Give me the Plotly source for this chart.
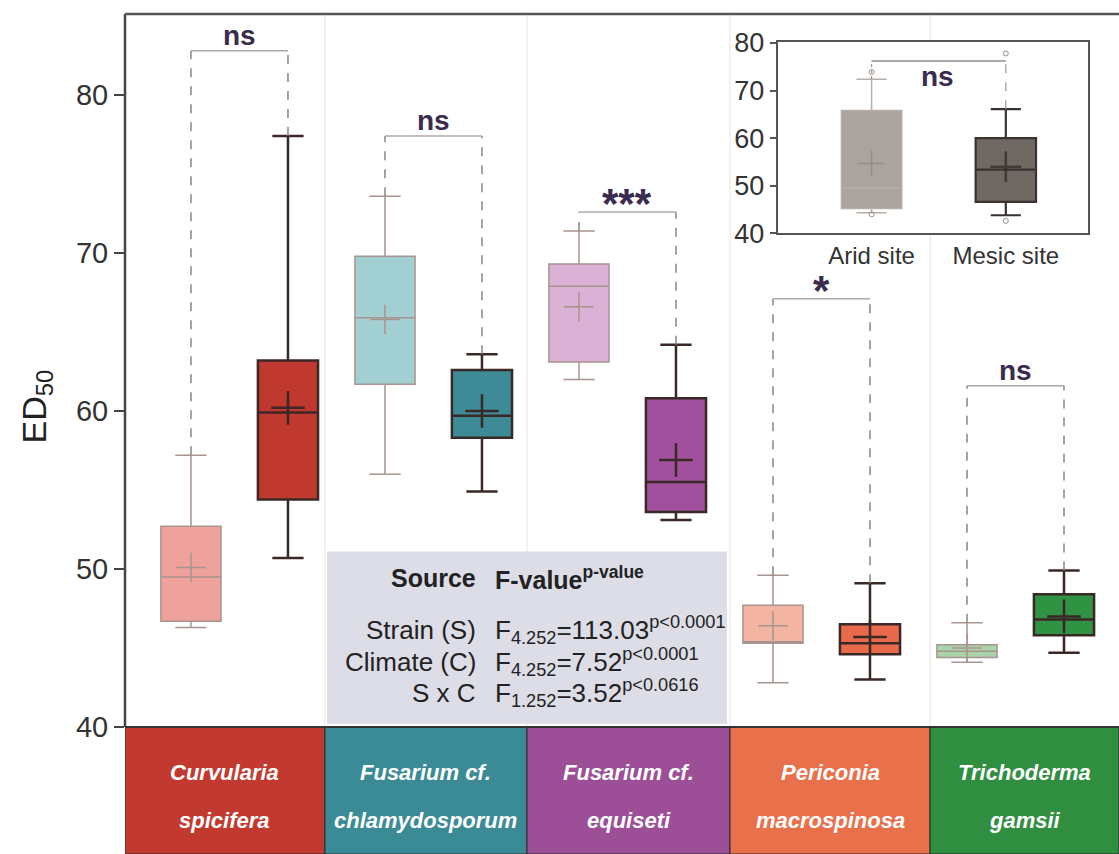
import plotly.graph_objects as go

# ---------------- data ----------------
strain_line1 = ["Curvularia", "Fusarium cf.", "Fusarium cf.", "Periconia", "Trichoderma"]
strain_line2 = ["spicifera", "chlamydosporum", "equiseti", "macrospinosa", "gamsii"]

arid_low  = [46.3, 56.0, 62.0, 42.8, 44.1]
arid_q1   = [46.7, 61.7, 63.1, 45.3, 44.4]
arid_med  = [49.5, 65.9, 67.9, 45.4, 44.8]
arid_q3   = [52.7, 69.8, 69.3, 47.7, 45.2]
arid_up   = [57.2, 73.6, 71.4, 49.6, 46.6]
arid_mean = [50.1, 65.8, 66.6, 46.4, 45.0]

mesic_low  = [50.7, 54.9, 53.1, 43.0, 44.7]
mesic_q1   = [54.4, 58.3, 53.6, 44.6, 45.8]
mesic_med  = [59.9, 59.7, 55.5, 45.3, 46.8]
mesic_q3   = [63.2, 62.6, 60.8, 46.5, 48.4]
mesic_up   = [77.4, 63.6, 64.2, 49.1, 49.9]
mesic_mean = [60.2, 60.0, 56.9, 45.7, 47.0]

bracket_y = [82.8, 77.4, 72.6, 67.1, 61.6]
sig_labels = ["ns", "ns", "***", "*", "ns"]

site_names = ["Arid site", "Mesic site"]
site_low  = [44.3, 43.8]
site_q1   = [45.2, 46.6]
site_med  = [49.6, 53.4]
site_q3   = [65.8, 60.0]
site_up   = [72.4, 66.1]
site_mean = [54.7, 54.0]
site_out_x = [0, 0, 1, 1]
site_out_y = [73.9, 44.0, 77.8, 42.6]
site_bracket = 76.2
site_sig = "ns"

stats_src = ["Strain (S)", "Climate (C)", "S x C"]
stats_df = ["4.252", "4.252", "1.252"]
stats_f = ["113.03", "7.52", "3.52"]
stats_p = ["p&lt;0.0001", "p&lt;0.0001", "p&lt;0.0616"]

# ---------------- styles ----------------
band_colors = ["#c23a2f", "#3b8b96", "#9c4f97", "#e8704b", "#2f8e40"]
arid_fill = ["#eea29b", "#a2d0d2", "#dcb1d6", "#f3b4a1", "#a9d4a9"]
mesic_fill = ["#c0382e", "#3c8b96", "#a0509c", "#e86a4b", "#2f9343"]
arid_line = "#a8948f"
mesic_line = "#3a2826"
FONT = "Liberation Sans, Arial, sans-serif"
SIGC = "#3b2c4f"

band_edges = [-0.68, 1.381, 3.464, 5.557, 7.619, 9.567]
spacing = 1.0
YMIN, YMAX = 31.96, 85.13

fig = go.Figure()

for i in range(5):
    xa = 2 * i * spacing
    xm = xa + spacing
    fig.add_trace(go.Box(
        x=[xa], q1=[arid_q1[i]], median=[arid_med[i]], q3=[arid_q3[i]],
        lowerfence=[arid_low[i]], upperfence=[arid_up[i]], orientation="v",
        width=0.62, whiskerwidth=0.52, fillcolor=arid_fill[i],
        line=dict(color=arid_line, width=1.5), boxpoints=False,
        showlegend=False, hoverinfo="skip"))
    fig.add_trace(go.Box(
        x=[xm], q1=[mesic_q1[i]], median=[mesic_med[i]], q3=[mesic_q3[i]],
        lowerfence=[mesic_low[i]], upperfence=[mesic_up[i]], orientation="v",
        width=0.62, whiskerwidth=0.52, fillcolor=mesic_fill[i],
        line=dict(color=mesic_line, width=2.5), boxpoints=False,
        showlegend=False, hoverinfo="skip"))

fig.add_trace(go.Scatter(
    x=[2 * i * spacing for i in range(5)], y=arid_mean, mode="markers",
    marker=dict(symbol="cross-thin", size=21, line=dict(color=arid_line, width=1.5)),
    showlegend=False, hoverinfo="skip"))
fig.add_trace(go.Scatter(
    x=[2 * i * spacing + spacing for i in range(5)], y=mesic_mean, mode="markers",
    marker=dict(symbol="cross-thin", size=24, line=dict(color=mesic_line, width=2.5)),
    showlegend=False, hoverinfo="skip"))

# inset
fig.add_trace(go.Box(
    x=[0], q1=[site_q1[0]], median=[site_med[0]], q3=[site_q3[0]],
    lowerfence=[site_low[0]], upperfence=[site_up[0]], orientation="v",
    width=0.45, whiskerwidth=0.5, fillcolor="#aaa39e",
    line=dict(color="#b9afa9", width=1.5), boxpoints=False,
    showlegend=False, hoverinfo="skip", xaxis="x2", yaxis="y2"))
fig.add_trace(go.Box(
    x=[1], q1=[site_q1[1]], median=[site_med[1]], q3=[site_q3[1]],
    lowerfence=[site_low[1]], upperfence=[site_up[1]], orientation="v",
    width=0.45, whiskerwidth=0.5, fillcolor="#6f6863",
    line=dict(color="#3a3330", width=2.2), boxpoints=False,
    showlegend=False, hoverinfo="skip", xaxis="x2", yaxis="y2"))
fig.add_trace(go.Scatter(
    x=[0, 1], y=site_mean, mode="markers",
    marker=dict(symbol="cross-thin", size=[18, 22],
                line=dict(color=["#8f8580", "#2e2826"], width=[1.5, 2.5])),
    showlegend=False, hoverinfo="skip", xaxis="x2", yaxis="y2"))
fig.add_trace(go.Scatter(
    x=site_out_x, y=site_out_y, mode="markers",
    marker=dict(symbol="circle-open", size=5, color="#9a908a", line=dict(width=1)),
    showlegend=False, hoverinfo="skip", xaxis="x2", yaxis="y2"))

shapes = []
annotations = []

# panel separators
for e in band_edges[1:-1]:
    shapes.append(dict(type="line", xref="x", yref="y", x0=e, x1=e, y0=40, y1=YMAX,
                       line=dict(color="#eeeeee", width=1.5), layer="below"))

# stats box
shapes.append(dict(type="rect", xref="x", yref="y", x0=1.402, x1=5.526, y0=40.2, y1=51.1,
                   fillcolor="#dcdde7", line=dict(width=0), layer="below"))

# category bands
for i in range(5):
    shapes.append(dict(type="rect", xref="x", yref="y", x0=band_edges[i], x1=band_edges[i + 1],
                       y0=YMIN, y1=40, fillcolor=band_colors[i],
                       line=dict(color="#2a2a2a", width=1), layer="below"))
    xc = (band_edges[i] + band_edges[i + 1]) / 2
    annotations.append(dict(x=xc, y=37.1, xref="x", yref="y", showarrow=False,
                            text="<b><i>%s</i></b>" % strain_line1[i],
                            font=dict(family=FONT, size=22, color="white")))
    annotations.append(dict(x=xc, y=34.1, xref="x", yref="y", showarrow=False,
                            text="<b><i>%s</i></b>" % strain_line2[i],
                            font=dict(family=FONT, size=22, color="white")))

# significance brackets
for i in range(5):
    xa = 2 * i * spacing
    xm = xa + spacing
    shapes.append(dict(type="line", xref="x", yref="y", x0=xa, x1=xa, y0=arid_up[i], y1=bracket_y[i],
                       line=dict(color="#8a8585", width=1.5, dash="dash")))
    shapes.append(dict(type="line", xref="x", yref="y", x0=xm, x1=xm, y0=mesic_up[i], y1=bracket_y[i],
                       line=dict(color="#8a8585", width=1.5, dash="dash")))
    shapes.append(dict(type="line", xref="x", yref="y", x0=xa, x1=xm, y0=bracket_y[i], y1=bracket_y[i],
                       line=dict(color="#b0a8a8", width=1.5)))
    is_star = sig_labels[i].startswith("*")
    annotations.append(dict(x=(xa + xm) / 2, y=bracket_y[i], xref="x", yref="y", showarrow=False,
                            yanchor="bottom", yshift=-17 if is_star else -2,
                            text="<b>%s</b>" % sig_labels[i],
                            font=dict(family=FONT, size=42 if is_star else 28, color=SIGC)))

# frame lines
shapes.append(dict(type="line", xref="paper", yref="y", x0=0, x1=0, y0=40, y1=YMAX,
                   line=dict(color="#444444", width=2.5)))
shapes.append(dict(type="line", xref="paper", yref="paper", x0=0, x1=1, y0=1, y1=1,
                   line=dict(color="#555555", width=2.5)))
shapes.append(dict(type="line", xref="paper", yref="y", x0=0, x1=1, y0=40, y1=40,
                   line=dict(color="#333333", width=2)))

# inset bracket
shapes.append(dict(type="line", xref="x2", yref="y2", x0=0, x1=1, y0=site_bracket, y1=site_bracket,
                   line=dict(color="#8f8a88", width=1.5)))
shapes.append(dict(type="line", xref="x2", yref="y2", x0=0, x1=0, y0=site_up[0], y1=site_bracket,
                   line=dict(color="#9a9491", width=1.2, dash="dot")))
shapes.append(dict(type="line", xref="x2", yref="y2", x0=1, x1=1, y0=site_up[1], y1=site_bracket,
                   line=dict(color="#9a9491", width=1.2, dash="dash")))
annotations.append(dict(x=0.49, y=72.9, xref="x2", yref="y2", showarrow=False,
                        text="<b>%s</b>" % site_sig,
                        font=dict(family=FONT, size=28, color=SIGC)))

# stats text
annotations.append(dict(x=2.959, y=49.43, xref="x", yref="y", showarrow=False, xanchor="right",
                        text="<b>Source</b>", font=dict(family=FONT, size=25, color="#222222")))
annotations.append(dict(x=3.113, y=49.43, xref="x", yref="y", showarrow=False, xanchor="left",
                        text="<b>F-value<sup>p-value</sup></b>",
                        font=dict(family=FONT, size=25, color="#222222")))
row_y = [46.14, 44.11, 42.15]
for j in range(3):
    annotations.append(dict(x=2.959, y=row_y[j], xref="x", yref="y", showarrow=False, xanchor="right",
                            text=stats_src[j], font=dict(family=FONT, size=26, color="#222222")))
    annotations.append(dict(x=3.113, y=row_y[j], xref="x", yref="y", showarrow=False, xanchor="left",
                            text="F<sub>%s</sub>=%s<sup>%s</sup>" % (stats_df[j], stats_f[j], stats_p[j]),
                            font=dict(family=FONT, size=26, color="#222222")))

# y axis title
annotations.append(dict(x=-0.113, y=60.3, xref="paper", yref="y", showarrow=False, textangle=-90,
                        text="ED<sub>50</sub>", font=dict(family=FONT, size=34, color="#222222")))

fig.update_layout(
    width=1119, height=854, autosize=False,
    margin=dict(l=125, r=0, t=14, b=0, pad=0, autoexpand=False),
    paper_bgcolor="white", plot_bgcolor="white",
    boxmode="overlay",
    showlegend=False,
    font=dict(family=FONT, color="#333333"),
    xaxis=dict(range=[band_edges[0], band_edges[-1]], showgrid=False, zeroline=False,
               showticklabels=False, ticks="", showline=False, domain=[0, 1], automargin=False),
    yaxis=dict(range=[YMIN, YMAX], showgrid=False, zeroline=False, showline=False,
               tickvals=[40, 50, 60, 70, 80], ticks="outside", ticklen=10, tickwidth=2,
               tickcolor="#444444", tickfont=dict(size=29, color="#333333"), domain=[0, 1],
               automargin=False),
    xaxis2=dict(domain=[0.6566, 0.9685], anchor="y2", range=[-0.70, 1.61],
                tickvals=[0, 1], ticktext=site_names, ticks="", showgrid=False, zeroline=False,
                showline=True, mirror=True, linecolor="#5a5450", linewidth=2,
                tickfont=dict(size=24, color="#333333"), automargin=False),
    yaxis2=dict(domain=[0.7389, 0.967], anchor="x2", range=[40, 80.27],
                tickvals=[40, 50, 60, 70, 80], ticks="outside", ticklen=6, tickwidth=2,
                tickcolor="#5a5450", showgrid=False, zeroline=False,
                showline=True, mirror=True, linecolor="#5a5450", linewidth=2,
                tickfont=dict(size=27, color="#333333"), automargin=False),
    shapes=shapes,
    annotations=annotations,
)

fig.write_html("out.html", config={"displayModeBar": False, "responsive": False},
               post_script="document.body.style.margin='0px';document.body.style.overflow='hidden';")
